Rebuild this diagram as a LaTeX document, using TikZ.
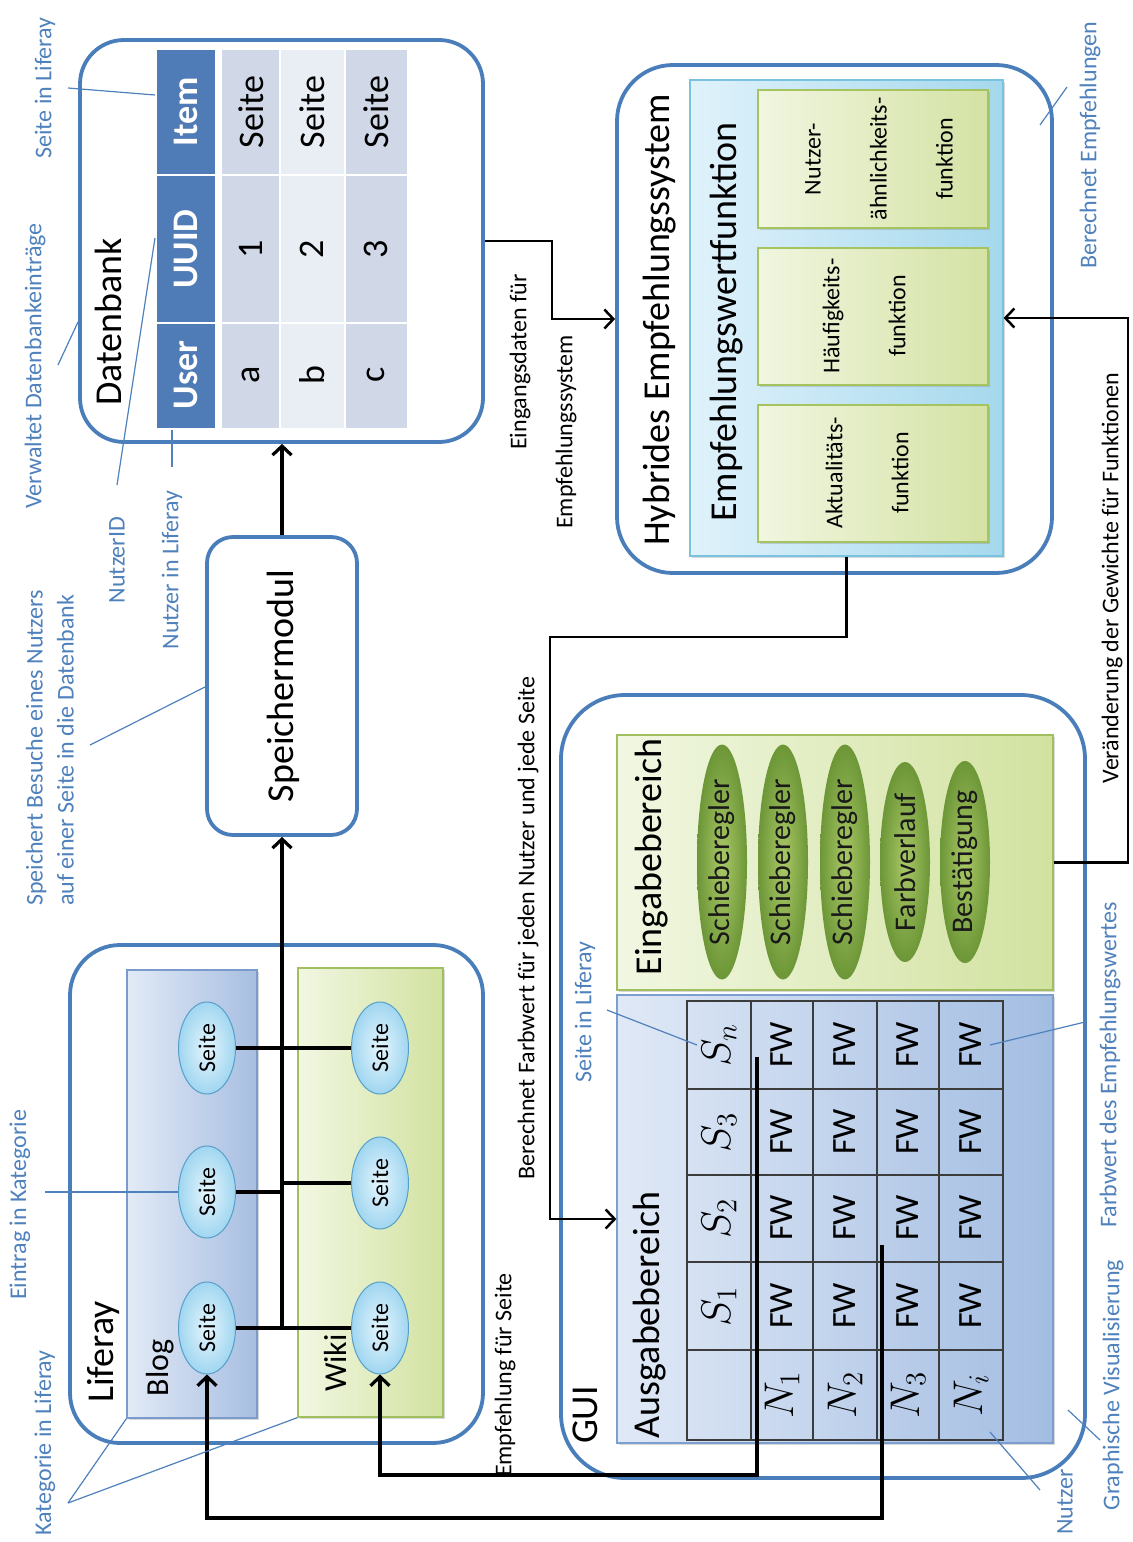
\documentclass[tikz,border=0pt]{standalone}
\usepackage{fontspec}
\setmainfont{Carlito}
\usetikzlibrary{arrows.meta,shapes.geometric,fit,shadows,calc}
\definecolor{boxblue}{RGB}{74,126,187}
\definecolor{annoblue}{RGB}{79,129,189}
\definecolor{headblue}{RGB}{79,124,182}
\definecolor{rowdark}{RGB}{208,216,232}
\definecolor{rowlight}{RGB}{233,237,244}
\definecolor{blogL}{RGB}{226,234,246}
\definecolor{blogR}{RGB}{167,190,225}
\definecolor{blogB}{RGB}{124,155,205}
\definecolor{wikiL}{RGB}{241,247,226}
\definecolor{wikiR}{RGB}{210,226,160}
\definecolor{wikiB}{RGB}{160,192,95}
\definecolor{empL}{RGB}{224,242,251}
\definecolor{empR}{RGB}{165,216,237}
\definecolor{empB}{RGB}{120,196,224}
\definecolor{funL}{RGB}{241,246,224}
\definecolor{funR}{RGB}{212,226,164}
\definecolor{funB}{RGB}{165,195,95}
\definecolor{ausL}{RGB}{224,233,246}
\definecolor{ausR}{RGB}{163,189,226}
\definecolor{ausB}{RGB}{125,158,208}
\definecolor{seiteIn}{RGB}{230,246,253}
\definecolor{seiteOut}{RGB}{160,214,240}
\definecolor{seiteB}{RGB}{85,160,200}
\definecolor{greenIn}{RGB}{170,200,102}
\definecolor{greenOut}{RGB}{108,150,55}
\definecolor{gridgray}{RGB}{60,60,60}
\newcommand{\FTitle}{\fontsize{19}{22}\selectfont}
\newcommand{\FSub}{\fontsize{16}{19}\selectfont}
\newcommand{\FAnno}{\fontsize{12}{14}\selectfont}
\newcommand{\FAnnoTwo}{\fontsize{12}{15.5}\selectfont}
\newcommand{\FCell}{\fontsize{18}{21}\selectfont}
\newcommand{\FSeite}{\fontsize{12}{14}\selectfont}
\newcommand{\FFun}{\fontsize{12}{33}\selectfont}
\newcommand{\FSlider}{\fontsize{15}{18}\selectfont}
\newcommand{\FFW}{\fontsize{17}{20}\selectfont}
\newcommand{\FMath}{\fontsize{20}{24}\selectfont}
\begin{document}
\begin{tikzpicture}[x=0.5pt,y=-0.5pt,
  bigbox/.style={draw=boxblue, line width=1.9pt, inner sep=0pt},
  panel/.style={inner sep=0pt, line width=0.6pt, drop shadow={shadow xshift=1.2pt, shadow yshift=-1.2pt, opacity=0.3}},
  title/.style={rotate=90, font=\FTitle, inner sep=0pt},
  sub/.style={rotate=90, font=\FSub, inner sep=0pt},
  anno/.style={rotate=90, text=annoblue, font=\FAnno, inner sep=0pt},
  lbl/.style={rotate=90, font=\FAnno, inner sep=0pt},
  annoline/.style={draw=annoblue, line width=0.6pt},
  conn/.style={draw=black, line width=1.6pt},
  thinconn/.style={draw=black, line width=1.25pt},
  myarrow/.style={-{Straight Barb[length=4.5pt,width=9.5pt]}},
  seite/.style={ellipse, rotate=90, minimum width=46pt, minimum height=28.5pt, inner sep=0pt,
    draw=seiteB, line width=0.5pt, inner color=seiteIn, outer color=seiteOut, font=\FSeite},
  slider/.style={ellipse, rotate=90, minimum width=100pt, minimum height=25pt, inner sep=0pt,
    inner color=greenIn, outer color=greenOut, font=\FSlider, text=black!90},
  dbhead/.style={rotate=90, text=white, font=\FCell\bfseries, inner sep=0pt},
  dbcell/.style={rotate=90, font=\FCell, inner sep=0pt},
  fw/.style={rotate=90, font=\FFW, inner sep=0pt},
  mth/.style={rotate=90, font=\FMath, inner sep=0pt},
  ftext/.style={rotate=90, font=\FFun, align=center, inner sep=0pt},
  grid/.style={draw=gridgray, line width=0.8pt}
]
\fill[white] (0,0) rectangle (1132,1542);
\useasboundingbox (0,0) rectangle (1132,1542);

% ---------------- Datenbank ----------------
\node[bigbox, fit={(80,40) (483,442)}, rounded corners=22pt] (db) {};
\node[title] (dbt) at (108,322) {Datenbank};
\fill[headblue] (157,50) rectangle (215,428);
\fill[rowdark] (222,50) rectangle (280,428);
\fill[rowlight] (280,50) rectangle (345,428);
\fill[rowdark] (345,50) rectangle (407,428);
\draw[white, line width=1pt] (157,175) -- (407,175) (157,323) -- (407,323);
\draw[white, line width=0.6pt] (280,50) -- (280,428) (345,50) -- (345,428);
\node[dbhead] (hItem) at (186,112) {Item};
\node[dbhead] (hUUID) at (186,249) {UUID};
\node[dbhead] (hUser) at (186,375) {User};
\node[dbcell] (c11) at (251,112) {Seite};
\node[dbcell] (c12) at (251,249) {1};
\node[dbcell] (c13) at (251,375) {a};
\node[dbcell] (c21) at (312,112) {Seite};
\node[dbcell] (c22) at (312,249) {2};
\node[dbcell] (c23) at (312,375) {b};
\node[dbcell] (c31) at (376,112) {Seite};
\node[dbcell] (c32) at (376,249) {3};
\node[dbcell] (c33) at (376,375) {c};

% ---------------- Speichermodul ----------------
\node[bigbox, fit={(207,537) (357,835)}, rounded corners=13pt] (spm) {};
\node[title] (spmt) at (283,686) {Speichermodul};

% ---------------- Liferay ----------------
\node[bigbox, fit={(70,945) (483,1443)}, rounded corners=25pt] (lr) {};
\node[panel, fit={(127,970) (257,1418)}, left color=blogL, right color=blogR, draw=blogB] (blog) {};
\node[panel, fit={(298,968) (443,1417)}, left color=wikiL, right color=wikiR, draw=wikiB] (wiki) {};
\node[title] (lrt) at (103,1352) {Liferay};
\node[sub] (blogt) at (160,1368) {Blog};
\node[sub] (wikit) at (335,1363) {Wiki};
\node[seite] (b1) at (207,1048) {Seite};
\node[seite] (b2) at (207,1192) {Seite};
\node[seite] (b3) at (207,1328) {Seite};
\node[seite] (w1) at (380,1048) {Seite};
\node[seite] (w2) at (380,1183) {Seite};
\node[seite] (w3) at (380,1328) {Seite};
\coordinate (j2b) at (282,1192);
\coordinate (j2w) at (282,1183);
\coordinate (j3) at (282,1328);
\draw[conn] (b1) -- (w1);
\draw[conn] (b2) -- (j2b);
\draw[conn] (w2) -- (j2w);
\draw[conn] (b3) -- (w3);
\draw[conn, myarrow] (j3) -- (spm.south);
\draw[conn, myarrow] (spm.north) -- (spm.north |- db.south);

% ---------------- Hybrides Empfehlungssystem ----------------
\node[bigbox, fit={(617,65) (1052,573)}, rounded corners=28pt] (hy) {};
\node[panel, fit={(690,80) (1003,556)}, left color=empL, right color=empR, draw=empB] (emp) {};
\node[title] (hyt) at (660,320) {Hybrides Empfehlungssystem};
\node[title] (empt) at (727,322) {Empfehlungswertfunktion};
\node[panel, fit={(758,90) (988,228)}, left color=funL, right color=funR, draw=funB] (fn) {};
\node[panel, fit={(758,248) (988,385)}, left color=funL, right color=funR, draw=funB] (fh) {};
\node[panel, fit={(758,405) (988,542)}, left color=funL, right color=funR, draw=funB] (fa) {};
\node[ftext] (fnt) at (879,159) {Nutzer-\\ähnlichkeits-\\funktion};
\node[ftext] (fht) at (864,316) {Häufigkeits-\\funktion};
\node[ftext] (fat) at (867,473) {Aktualitäts-\\funktion};

% ---------------- GUI ----------------
\node[bigbox, fit={(561,695) (1085,1478)}, rounded corners=32pt] (gui) {};
\node[title] (guit) at (585,1415) {GUI};
\node[panel, fit={(617,735) (1053,990)}, left color=wikiL, right color=wikiR, draw=wikiB] (ein) {};
\node[panel, fit={(617,995) (1053,1443)}, left color=ausL, right color=ausR, draw=ausB] (aus) {};
\node[title] (eint) at (652,857) {Eingabebereich};
\node[title] (aust) at (650,1315) {Ausgabebereich};
\node[slider] (s1) at (722,862) {Schieberegler};
\node[slider] (s2) at (783,862) {Schieberegler};
\node[slider] (s3) at (845,862) {Schieberegler};
\node[slider] (s4) at (905,862) {Farbverlauf};
\node[slider] (s5) at (965,862) {Bestätigung};
% table
\draw[grid] (687,1001) rectangle (1003,1440);
\foreach \gx in {751,813,877,939} \draw[grid] (\gx,1001) -- (\gx,1440);
\foreach \gy in {1089,1175,1262,1350} \draw[grid] (687,\gy) -- (1003,\gy);
\node[mth] (sn) at (719,1045) {$S_n$};
\node[mth] (s3h) at (719,1132) {$S_3$};
\node[mth] (s2h) at (719,1218) {$S_2$};
\node[mth] (s1h) at (719,1306) {$S_1$};
\node[mth] (n1) at (782,1395) {$N_1$};
\node[mth] (n2) at (845,1395) {$N_2$};
\node[mth] (n3) at (908,1395) {$N_3$};
\node[mth] (ni) at (971,1395) {$N_i$};
\foreach \cx/\r in {782/1,845/2,908/3,971/4}
  \foreach \cy/\c in {1045/1,1132/2,1218/3,1306/4}
    \node[fw] (fw\r\c) at (\cx,\cy) {FW};

% ---------------- connectors between blocks ----------------
\draw[thinconn, myarrow] (db.east) -- ++(67,0) |- (hy.west);
\draw[thinconn, myarrow] (emp.south) |- (550,637) |- (aus.west);
\draw[thinconn, myarrow] (ein.east) -| (1128,400) |- (emp.east);
\coordinate (r1) at (757,1057);
\coordinate (r2) at (882,1245);
\draw[conn, myarrow] (r1) -- ++(0,418) -| (w3);
\draw[conn, myarrow] (r2) -- ++(0,273) -| (b3);

% ---------------- black labels ----------------
\node[lbl] (l1) at (520,362) {Eingangsdaten für};
\node[lbl] (l2) at (566,432) {Empfehlungssystem};
\node[lbl] (l3) at (528,928) {Berechnet Farbwert für jeden Nutzer und jede Seite};
\node[lbl] (l4) at (505,1375) {Empfehlung für Seite};
\node[lbl] (l5) at (1112,578) {Veränderung der Gewichte für Funktionen};

% ---------------- annotations ----------------
\node[anno] (aSL) at (45,88) {Seite in Liferay};
\node[anno] (aVD) at (35,366) {Verwaltet Datenbankeinträge};
\node[anno] (aNID) at (117,560) {NutzerID};
\node[anno] (aNL) at (172,570) {Nutzer in Liferay};
\node[anno, align=left, font=\FAnnoTwo] (aSB) at (50,748) {Speichert Besuche eines Nutzers\\auf einer Seite in die Datenbank};
\node[anno] (aEK) at (20,1205) {Eintrag in Kategorie};
\node[anno] (aKL) at (45,1443) {Kategorie in Liferay};
\node[anno] (aBE) at (1090,145) {Berechnet Empfehlungen};
\node[anno] (aSL2) at (585,1012) {Seite in Liferay};
\node[anno] (aFE) at (1110,1065) {Farbwert des Empfehlungswertes};
\node[anno] (aGV) at (1113,1385) {Graphische Visualisierung};
\node[anno] (aNu) at (1065,1502) {Nutzer};

\draw[annoline] (68,88) -- (155,95);
\draw[annoline] (58,365) -- (78,322);
\draw[annoline] (117,485) -- (155,238);
\draw[annoline] (172,467) -- (172,430);
\draw[annoline] (90,745) -- (205,687);
\draw[annoline] (45,1192) -- (b2);
\draw[annoline] (68,1503) -- (blog.south west);
\draw[annoline] (68,1503) -- (wiki.south west);
\draw[annoline] (1040,125) -- (1067,87);
\draw[annoline] (607,1010) -- (697,1045);
\draw[annoline] (1085,1022) -- (990,1045);
\draw[annoline] (1100,1440) -- (1068,1410);
\draw[annoline] (1040,1490) -- (990,1432);
\end{tikzpicture}
\end{document}
